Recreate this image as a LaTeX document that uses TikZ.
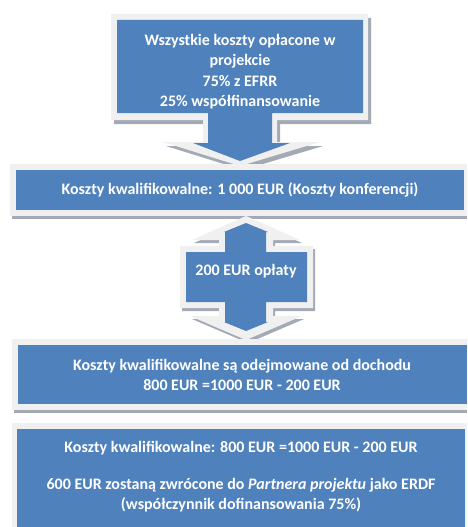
\documentclass[tikz,border=0pt]{standalone}
\usepackage{fontspec}
\setmainfont{Carlito}
\definecolor{blu}{HTML}{4F81BD}
\definecolor{lite}{HTML}{F0F0F0}
\definecolor{shd}{HTML}{A3AAB5}
\tikzset{
  bluefill/.style={fill=blu},
  litefill/.style={fill=lite},
  shadowfill/.style={fill=shd},
  label/.style={text=white,font=\bfseries\fontsize{16}{20.4}\selectfont,align=center,inner sep=0pt}
}
\begin{document}
\begin{tikzpicture}[x=1pt,y=-1pt]
\useasboundingbox (0,0) rectangle (467,527);
% ---------- top callout ----------
\def\topLite{(111,14) -- (368,14) -- (368,120) -- (277,120) -- (277,142) -- (320,142) -- (240,166) -- (163,142) -- (203,142) -- (203,120) -- (111,120) -- cycle}
\fill[shadowfill,shift={(3,4)}] \topLite;
\fill[litefill] \topLite;
\fill[bluefill] (117,20) -- (363,20) -- (363,113) -- (272,113) -- (272,143) -- (290,143) -- (240,161) -- (193,143) -- (208,143) -- (208,113) -- (117,113) -- cycle;
\node[label] (t1) at (240,71.5) {Wszystkie koszty opłacone w\\projekcie\\75\% z EFRR\\25\% współfinansowanie};
% ---------- box 2 ----------
\fill[shadowfill] (12,168) rectangle (467,219);
\fill[litefill] (10,164) rectangle (467,216);
\fill[bluefill] (16,170) rectangle (464,210);
\node[label] (t2) at (240,190) {Koszty kwalifikowalne: 1 000 EUR (Koszty konferencji)};
% ---------- double arrow callout ----------
\def\dblLite{(246,216) -- (300,240) -- (273,240) -- (273,246) -- (313,246) -- (313,308) -- (273,308) -- (273,316) -- (302,316) -- (246,340) -- (190,316) -- (219,316) -- (219,308) -- (180,308) -- (180,246) -- (219,246) -- (219,240) -- (192,240) -- cycle}
\fill[shadowfill,shift={(2,3)}] \dblLite;
\fill[litefill] \dblLite;
\fill[bluefill] (246,223) -- (268,232) -- (266,232) -- (266,252) -- (307,252) -- (307,302) -- (266,302) -- (266,322) -- (268,322) -- (246,331) -- (224,322) -- (225,322) -- (225,302) -- (186,302) -- (186,252) -- (225,252) -- (225,232) -- (224,232) -- cycle;
\node[label] (t3) at (246,271) {200 EUR opłaty};
% ---------- box 3 ----------
\fill[shadowfill] (14,343) rectangle (467,413);
\fill[litefill] (12,339) rectangle (467,410);
\fill[bluefill] (18,345) rectangle (467,404);
\node[label] (t4) at (242,375) {Koszty kwalifikowalne są odejmowane od dochodu\\800 EUR =1000 EUR - 200 EUR};
% ---------- box 4 ----------
\fill[litefill] (12,423) rectangle (467,527);
\fill[bluefill] (17,429) rectangle (465,527);
\node[label] (t5) at (241,448) {Koszty kwalifikowalne: 800 EUR =1000 EUR - 200 EUR};
\node[label] (t6) at (241,495) {600 EUR zostaną zwrócone do \textit{Partnera projektu} jako ERDF\\(współczynnik dofinansowania 75\%)};
\end{tikzpicture}
\end{document}
